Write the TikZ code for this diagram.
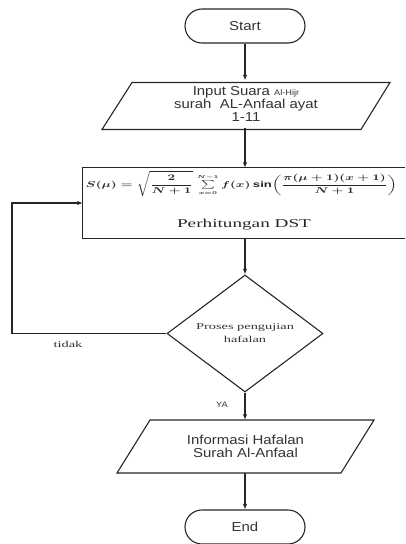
\documentclass[tikz,border=0pt]{standalone}
\usepackage{fontspec}
\usepackage{graphicx}
\usepackage{amsmath}
\setmainfont{Liberation Sans}
\newfontfamily\arialw[FakeStretch=1.15]{Liberation Sans}
\newfontfamily\timesw[FakeStretch=1.6]{Liberation Serif}
\usetikzlibrary{arrows.meta,shapes.geometric}
\begin{document}
\begin{tikzpicture}[x=1pt,y=-1pt,
 line/.style={line width=1.1pt, draw=black!85},
 arr/.style={line, -{Latex[length=5.5pt,width=4.5pt]}},
 terminal/.style={line, rectangle, rounded corners=17pt, minimum width=120pt, minimum height=34pt, inner sep=0pt, text=black!80, font=\arialw\fontsize{13}{14}\selectfont},
 ghost/.style={rectangle, inner sep=0pt, align=center, text=black!80, font=\arialw\fontsize{13}{13}\selectfont},
 decision/.style={line, diamond, minimum width=156pt, minimum height=93pt, inner sep=0pt, align=center, text=black!80, font=\timesw\fontsize{9}{13}\selectfont},
 smallserif/.style={text=black!80, font=\timesw\fontsize{9}{10}\selectfont},
 smallsans/.style={text=black!80, font=\arialw\fontsize{8}{9}\selectfont},
]
\useasboundingbox (0,0) rectangle (405,544);
% Start
\node[terminal] (start) at (245,26) {Start};
% Input
\draw[line] (132,82.5) -- (390,82.5) -- (361,129.5) -- (102,129.5) -- cycle;
\node[ghost, minimum width=258pt, minimum height=47pt] (input) at (246,104)
  {Input Suara {\fontsize{8}{9}\selectfont Al-Hijr}\\surah\ \ AL-Anfaal ayat\\1-11};
% DST box
\node[inner sep=0pt, minimum width=322pt, minimum height=70pt] (dst) at (244,203) {};
\draw[line] (dst.north east) -- (dst.north west) -- (dst.south west) -- (dst.south east);
\node[inner sep=0pt, text=black!85] (formula) at (241.5,184)
  {\resizebox*{311pt}{26pt}{\boldmath$\displaystyle S(\mu)=\sqrt{\frac{2}{N+1}}\;{\textstyle\sum\limits_{\scriptscriptstyle x=0}^{\scriptscriptstyle N-1}}\, f(x)\sin\!\left(\frac{\pi(\mu+1)(x+1)}{N+1}\right)$}};
\node[text=black!85, font=\timesw\fontsize{12}{12}\selectfont] (dstlabel) at (244,225) {Perhitungan DST};
% Decision
\node[decision] (dec) at (245,333.5) {Proses pengujian\\hafalan};
\coordinate (loopcorner) at (12,333.5);
% Output
\draw[line] (150,420) -- (374,420) -- (341,473) -- (117,473) -- cycle;
\node[ghost, minimum width=224pt, minimum height=53pt, font=\arialw\fontsize{13}{12.5}\selectfont] (out) at (245.5,446.5)
  {Informasi Hafalan\\Surah Al-Anfaal};
% End
\node[terminal] (end) at (245,527) {End};
% Connectors
\draw[arr] (start.south) -- (start.south |- input.north);
\draw[arr] (start.south |- input.south) -- (start.south |- dst.north);
\draw[arr] (dst.south -| dec.north) -- (dec.north);
\draw[arr] (dec.south) -- (dec.south |- out.north)
  node[smallsans, pos=0.45, xshift=-23pt] {YA};
\draw[arr] (dec.west) -- (loopcorner) |- (dst.west);
\node[smallserif] (tidak) at (68,344) {tidak};
\draw[arr] (out.south -| end.north) -- (end.north);
\end{tikzpicture}
\end{document}
